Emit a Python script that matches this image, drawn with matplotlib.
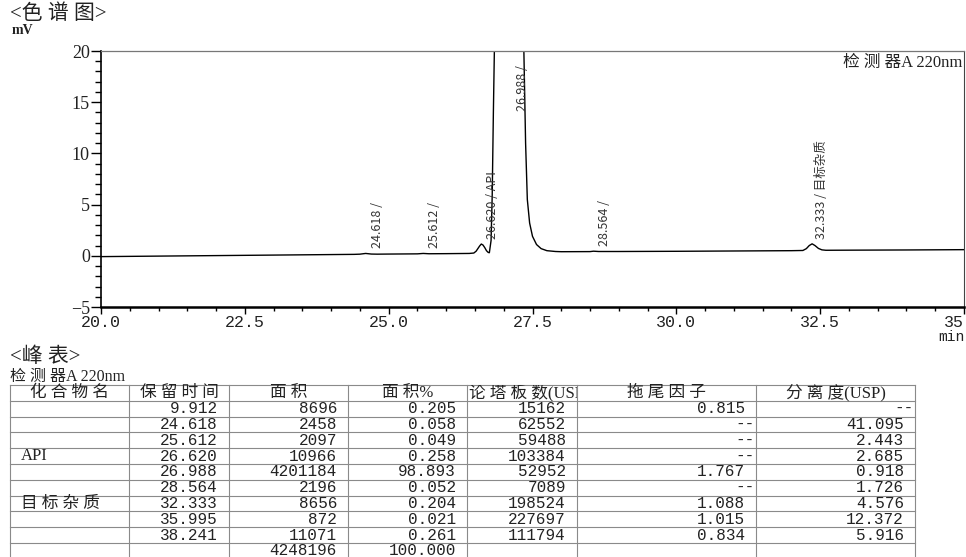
import numpy as np
import matplotlib
matplotlib.use("Agg")
import matplotlib.pyplot as plt
from matplotlib.ticker import MultipleLocator, FormatStrFormatter
from matplotlib.patches import Rectangle

CJK = ['Noto Sans CJK SC', 'DejaVu Sans']
SERIF_CJK = ['Liberation Serif', 'Noto Sans CJK SC']
MONO = 'Liberation Mono'

# chromatogram trace (min, mV)
trace_t = [20.0, 21.0, 22.0, 23.0, 24.0, 24.4, 24.5, 24.6, 24.7, 24.8, 25.0, 25.5, 25.6, 25.7,
           26.0, 26.4, 26.48, 26.52, 26.55, 26.58, 26.61, 26.64, 26.67, 26.70, 26.73, 26.75,
           26.78, 26.80, 26.82, 26.84, 26.90, 26.99, 27.20, 27.30, 27.35, 27.38, 27.41, 27.45,
           27.50, 27.57, 27.65, 27.75, 27.90, 28.0, 28.5, 28.56, 28.65, 29.0, 30.0, 31.0,
           32.0, 32.2, 32.26, 32.31, 32.36, 32.41, 32.47, 32.53, 32.6, 33.0, 34.0, 35.0]
trace_mv = [-0.08, -0.03, 0.02, 0.07, 0.12, 0.14, 0.16, 0.23, 0.17, 0.16, 0.17, 0.19, 0.23, 0.20,
            0.21, 0.23, 0.27, 0.45, 0.70, 0.95, 1.15, 1.05, 0.80, 0.50, 0.33, 0.30,
            1.5, 6.0, 14.0, 21.0, 60.0, 280.0, 80.0, 30.0, 20.0, 11.0, 5.5, 3.2,
            1.9, 1.1, 0.7, 0.5, 0.42, 0.40, 0.41, 0.45, 0.42, 0.42, 0.44, 0.47,
            0.50, 0.52, 0.70, 1.0, 1.17, 1.0, 0.72, 0.58, 0.54, 0.55, 0.57, 0.60]

peak_rt = [24.618, 25.612, 26.620, 26.988, 28.564, 32.333]
peak_name = ['', '', 'API', '', '', '目标杂质']

# peak table
tbl_header = ['化合物名', '保留时间', '面积', '面积%', '论塔板数(USP)', '拖尾因子', '分离度(USP)']
tbl_name = ['', '', '', 'API', '', '', '目标杂质', '', '', '']
tbl_rt = ['9.912', '24.618', '25.612', '26.620', '26.988', '28.564', '32.333', '35.995', '38.241', '']
tbl_area = ['8696', '2458', '2097', '10966', '4201184', '2196', '8656', '872', '11071', '4248196']
tbl_pct = ['0.205', '0.058', '0.049', '0.258', '98.893', '0.052', '0.204', '0.021', '0.261', '100.000']
tbl_plates = ['15162', '62552', '59488', '103384', '52952', '7089', '198524', '227697', '111794', '']
tbl_tail = ['0.815', '--', '--', '--', '1.767', '--', '1.088', '1.015', '0.834', '']
tbl_res = ['--', '41.095', '2.443', '2.685', '0.918', '1.726', '4.576', '12.372', '5.916', '']


def spaced(s):
    # the printout spreads CJK characters apart a little
    out = ''
    for i, ch in enumerate(s):
        out += ch
        if i + 1 < len(s) and ord(ch) > 0x2e80 and ord(s[i + 1]) > 0x2e80:
            out += ' '
    return out


W, H = 966, 557
fig = plt.figure(figsize=(W / 100, H / 100), dpi=100)

# overlay in pixel coords for headings and the table
tab = fig.add_axes([0, 0, 1, 1])
tab.set_xlim(0, W)
tab.set_ylim(H, 0)
tab.axis('off')
tab.patch.set_visible(False)

ax = fig.add_axes([101 / W, 1 - 307 / H, (964 - 101) / W, (307 - 51) / H])
ax.set_zorder(2)
ax.patch.set_alpha(0)

t = np.array(trace_t)
mv = np.array(trace_mv)
ax.plot(t, mv, color='black', lw=1.0)
ax.set_xlim(20, 35)
ax.set_ylim(-5, 20)

ax.xaxis.set_major_locator(MultipleLocator(2.5))
ax.xaxis.set_minor_locator(MultipleLocator(0.5))
ax.yaxis.set_major_locator(MultipleLocator(5))
ax.yaxis.set_minor_locator(MultipleLocator(1))
ax.xaxis.set_major_formatter(FormatStrFormatter('%.1f'))
ax.tick_params(axis='both', which='major', direction='out', pad=1)
ax.tick_params(axis='y', which='major', length=7, width=1.0)
ax.tick_params(axis='y', which='minor', length=4, width=1.0)
ax.tick_params(axis='x', which='major', length=5, width=1.0)
ax.tick_params(axis='x', which='minor', length=3, width=1.0)
for lab in ax.get_xticklabels():
    lab.set_fontfamily(MONO)
    lab.set_fontsize(12)
    lab.set_color('#222222')
for lab in ax.get_yticklabels():
    lab.set_fontfamily('Liberation Serif')
    lab.set_fontsize(13)
    lab.set_color('#222222')
ax.spines['top'].set_color('#777777')
ax.spines['top'].set_linewidth(0.9)
ax.spines['right'].set_color('#444444')
ax.spines['right'].set_linewidth(0.8)
ax.spines['bottom'].set_linewidth(1.8)
ax.spines['left'].set_linewidth(1.2)

# peak labels
ytop = ax.get_ylim()[1]
for rt, name in zip(peak_rt, peak_name):
    txt = f"{rt:.3f} /" + (f" {name}" if name else "")
    h = np.interp(rt, t, mv)
    if h > ytop:
        ax.annotate(txt, (rt, ytop), xytext=(9, -10), textcoords='offset points',
                    rotation=90, rotation_mode='anchor', ha='right', va='top',
                    fontsize=9, family=CJK, color='#333333')
    else:
        ax.annotate(txt, (rt, h), xytext=(3, 4), textcoords='offset points',
                    rotation=90, rotation_mode='anchor', ha='left', va='top',
                    fontsize=9, family=CJK, color='#333333')

ax.text(0.998, 0.985, spaced('检测器') + 'A 220nm', transform=ax.transAxes, ha='right', va='top',
        fontsize=12, family=SERIF_CJK, color='#222222')

tab.text(10, 14, '<' + spaced('色谱图') + '>', ha='left', va='center', fontsize=15,
         family=SERIF_CJK, color='#222222')
tab.text(12, 31, 'mV', ha='left', va='center', fontsize=10, family='Liberation Serif',
         color='#222222', fontweight='bold')
tab.text(965, 337, 'min', ha='right', va='center', fontsize=10.5, family=MONO, color='#222222')
tab.text(10, 357, '<' + spaced('峰表') + '>', ha='left', va='center', fontsize=15,
         family=SERIF_CJK, color='#222222')
tab.text(10, 377, spaced('检测器') + 'A 220nm', ha='left', va='center', fontsize=11.5,
         family=SERIF_CJK, color='#222222')

# table grid
col_x = [10, 129, 229, 348, 467, 577, 756, 915]
row_top = 385
row_h = 15.8
n_rows = len(tbl_area) + 1
line_c = '#8a8a8a'
for i in range(n_rows + 1):
    y = row_top + i * row_h
    tab.plot([col_x[0], col_x[-1]], [y, y], color=line_c, lw=0.8)
for x in col_x:
    tab.plot([x, x], [row_top, row_top + n_rows * row_h], color=line_c, lw=0.8)

# header
for j, head in enumerate(tbl_header):
    cy = row_top + row_h / 2
    if j == 4:
        tx = tab.text(col_x[j] + 2, cy, spaced(head), ha='left', va='center', fontsize=12,
                      family=SERIF_CJK, color='#222222', clip_on=True)
        clip = Rectangle((col_x[j], row_top), col_x[j + 1] - col_x[j], row_h,
                         transform=tab.transData)
        tx.set_clip_path(clip)
    else:
        tab.text((col_x[j] + col_x[j + 1]) / 2, cy, spaced(head), ha='center', va='center',
                 fontsize=12, family=SERIF_CJK, color='#222222')

cols = [tbl_rt, tbl_area, tbl_pct, tbl_plates, tbl_tail, tbl_res]
for i in range(len(tbl_area)):
    cy = row_top + (i + 1) * row_h + row_h / 2
    if tbl_name[i]:
        tab.text(col_x[0] + 11, cy, spaced(tbl_name[i]), ha='left', va='center', fontsize=12,
                 family=SERIF_CJK, color='#222222')
    for j, col in enumerate(cols):
        val = col[i]
        if not val:
            continue
        right = col_x[j + 2]
        pad = 1 if val == '--' else 11
        tab.text(right - pad, cy, val, ha='right', va='center', fontsize=11.5,
                 family=MONO, color='#222222')

fig.savefig('out.png', dpi=100)
